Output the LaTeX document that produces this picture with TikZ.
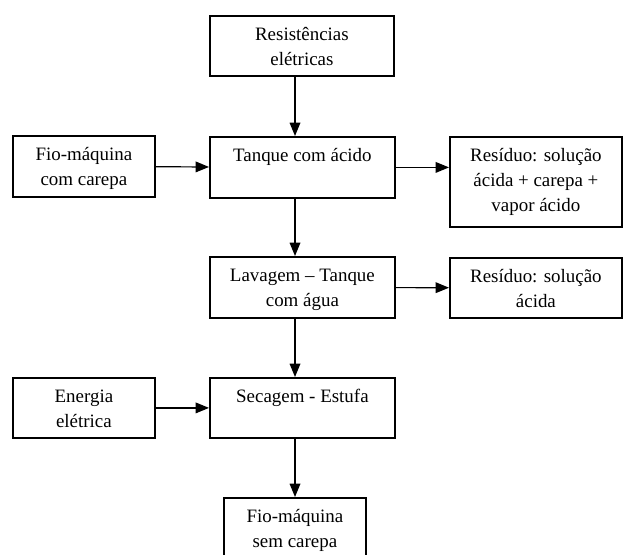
\documentclass[tikz,border=0pt]{standalone}
\usepackage{fontspec}
\setmainfont{Liberation Serif}
\usepackage{tikz}
\usetikzlibrary{arrows.meta}

\tikzset{
  bloco/.style={draw, line width=1.35pt, inner sep=0pt, anchor=north west,
    font=\fontsize{14.2}{18.75}\selectfont},
  seta/.style={-{Triangle[length=10pt,width=8pt]}, line width=0.9pt},
}
% texto alinhado ao topo da caixa
\newcommand{\caixa}[3]{\parbox[c][#2][t]{#1}{\centering\rule{0pt}{18.75pt}#3}}

\begin{document}
\begin{tikzpicture}[x=0.75pt,y=-0.75pt]
  \useasboundingbox (0,0) rectangle (624,554);
  \clip (0,0) rectangle (624,554);
  \coordinate (eixo) at (295,0);

  \node[bloco] (res) at (209,15) {\caixa{138pt}{45pt}{Resistências\\elétricas}};
  \node[bloco] (fio) at (12,135) {\caixa{106.5pt}{45.75pt}{Fio-máquina\\com carepa}};
  \node[bloco] (tanque) at (209,136) {\caixa{138.75pt}{45.75pt}{Tanque com ácido}};
  \node[bloco] (residuo) at (449,136) {\caixa{129pt}{67.5pt}{Resíduo: solução\\ácida + carepa +\\vapor ácido}};
  \node[bloco] (lavagem) at (209,256) {\caixa{138.75pt}{45.75pt}{Lavagem -- Tanque\\com água}};
  \node[bloco] (residuob) at (449,257) {\caixa{129pt}{45pt}{Resíduo: solução\\ácida}};
  \node[bloco] (energia) at (12,377) {\caixa{106.5pt}{45pt}{Energia\\elétrica}};
  \node[bloco] (secagem) at (209,377) {\caixa{138.75pt}{45pt}{Secagem - Estufa}};
  \node[bloco] (saida) at (223,497) {\caixa{106.5pt}{45.75pt}{Fio-máquina\\sem carepa}};

  \draw[seta] (res.south -| eixo) -- (tanque.north -| eixo);
  \draw[seta] (fio) -- (tanque);
  \draw[seta] (tanque.east) -- (tanque.east -| residuo.west);
  \draw[seta] (tanque.south -| eixo) -- (lavagem.north -| eixo);
  \draw[seta] (lavagem) -- (residuob);
  \draw[seta] (lavagem.south -| eixo) -- (secagem.north -| eixo);
  \draw[seta] (energia) -- (secagem);
  \draw[seta] (secagem.south -| eixo) -- (saida.north -| eixo);
\end{tikzpicture}
\end{document}
